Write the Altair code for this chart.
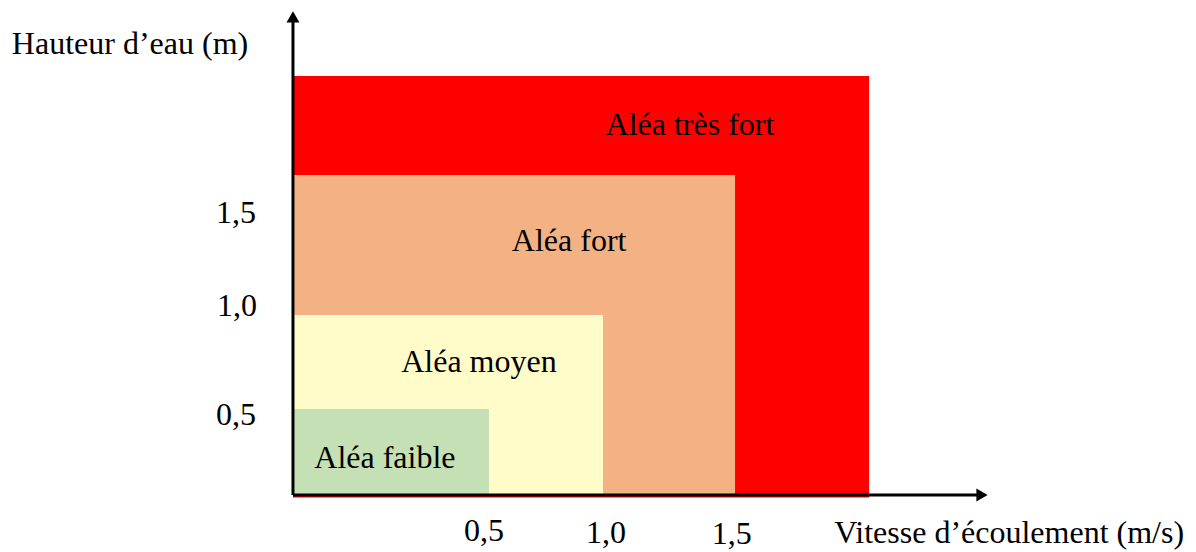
import altair as alt
import pandas as pd

# Zones (drawn from largest to smallest)
zones = ["Aléa très fort", "Aléa fort", "Aléa moyen", "Aléa faible"]
zone_x2 = [1.955, 1.50, 1.052, 0.665]
zone_y2 = [1.964, 1.50, 0.844, 0.403]
zone_colors = ["#FF0000", "#F4B183", "#FFFCCA", "#C5E0B4"]
label_x = [1.347, 0.937, 0.631, 0.312]
label_y = [1.688, 1.144, 0.577, 0.127]

# Tick labels
ytick_text = ["1,5", "1,0", "0,5"]
ytick_y = [1.275, 0.839, 0.328]
ytick_x = [-0.193, -0.19, -0.193]
xtick_text = ["0,5", "1,0", "1,5"]
xtick_x = [0.648, 1.062, 1.489]
xtick_y = [-0.216, -0.225, -0.230]

# Axis titles
titles = ["Hauteur d\u2019eau (m)", "Vitesse d\u2019\u00e9coulement (m/s)"]
title_x = [-0.553, 2.43]
title_y = [2.067, -0.225]

XD = [-0.967, 3.037]
YD = [-0.267, 2.283]
xs = alt.Scale(domain=XD, nice=False, zero=False)
ys = alt.Scale(domain=YD, nice=False, zero=False)
FONT = "Liberation Serif"
FS = 32

rects = pd.DataFrame({
    "zone": zones,
    "x": [0.0] * 4,
    "x2": zone_x2,
    "y": [-0.012, 0.0, 0.0, 0.0],
    "y2": zone_y2,
    "order": list(range(4)),
})

rect_layer = alt.Chart(rects).mark_rect().encode(
    x=alt.X("x:Q", scale=xs, axis=None),
    x2="x2:Q",
    y=alt.Y("y:Q", scale=ys, axis=None),
    y2="y2:Q",
    color=alt.Color("zone:N", scale=alt.Scale(domain=zones, range=zone_colors), legend=None),
    order="order:Q",
)


def text_layer(texts, xv, yv):
    return alt.Chart(pd.DataFrame({"t": texts, "x": xv, "y": yv})).mark_text(
        font=FONT, fontSize=FS, color="black", align="center", baseline="alphabetic"
    ).encode(
        x=alt.X("x:Q", scale=xs, axis=None),
        y=alt.Y("y:Q", scale=ys, axis=None),
        text="t:N",
    )


zone_labels = text_layer(zones, label_x, label_y)

# Axes with arrows
axis_lines = pd.DataFrame({
    "x": [0.0, 0.0],
    "x2": [2.33, 0.0],
    "y": [0.0, 0.0],
    "y2": [0.0, 2.23],
})
axis_layer = alt.Chart(axis_lines).mark_rule(color="black", strokeWidth=3).encode(
    x=alt.X("x:Q", scale=xs, axis=None), x2="x2:Q",
    y=alt.Y("y:Q", scale=ys, axis=None), y2="y2:Q",
)

arrows = pd.DataFrame({"x": [2.338, 0.0], "y": [0.0, 2.241], "shape": ["triangle-right", "triangle-up"]})
arrow_layer = alt.Chart(arrows).mark_point(filled=True, color="black", opacity=1, size=170).encode(
    x=alt.X("x:Q", scale=xs, axis=None),
    y=alt.Y("y:Q", scale=ys, axis=None),
    shape=alt.Shape("shape:N", scale=None, legend=None),
)

yticks = text_layer(ytick_text, ytick_x, ytick_y)
xticks = text_layer(xtick_text, xtick_x, xtick_y)
title_layer = text_layer(titles, title_x, title_y)

chart = alt.layer(
    rect_layer, zone_labels, axis_layer, arrow_layer, yticks, xticks, title_layer
).properties(
    width=1180, height=544,
    autosize=alt.AutoSizeParams(type="none"),
    padding=0,
    background="white",
).configure_view(stroke=None)

chart.save("out.html", embed_options={"renderer": "svg", "actions": False})
